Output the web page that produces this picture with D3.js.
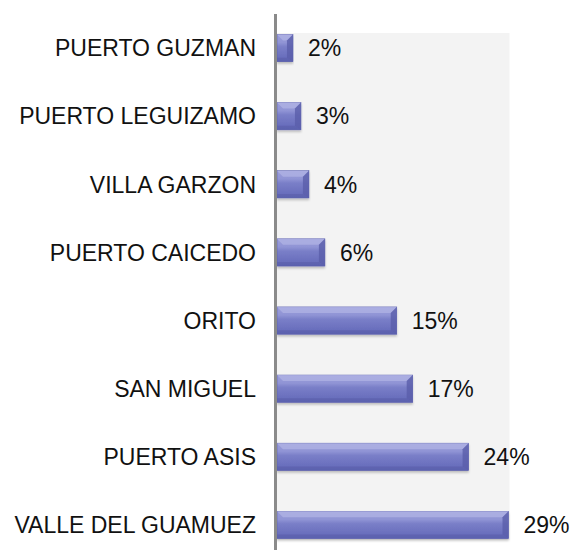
<!DOCTYPE html>
<html>
<head>
<meta charset="utf-8">
<script src="https://cdn.jsdelivr.net/npm/d3@7"></script>
<style>
  html, body { margin: 0; padding: 0; background: #ffffff; }
  svg { display: block; }
  text { font-family: "Liberation Sans", Arial, sans-serif; fill: #111; }
</style>
</head>
<body>
<div id="chart"></div>
<script>
// Municipalities and their share (%)
const categories = [
  "PUERTO GUZMAN",
  "PUERTO LEGUIZAMO",
  "VILLA GARZON",
  "PUERTO CAICEDO",
  "ORITO",
  "SAN MIGUEL",
  "PUERTO ASIS",
  "VALLE DEL GUAMUEZ"
];
const values = [2, 3, 4, 6, 15, 17, 24, 29];
const valueLabels = ["2%", "3%", "4%", "6%", "15%", "17%", "24%", "29%"];

const W = 571, H = 550;
const svg = d3.select("#chart").append("svg")
  .attr("width", W).attr("height", H);

const x = d3.scaleLinear().domain([0, 29]).range([277, 508.5]);
const y = d3.scaleBand().domain(categories).range([14, 559])
  .paddingInner(0.6).paddingOuter(0.3);

const defs = svg.append("defs");
const grad = defs.append("linearGradient")
  .attr("id", "barGrad").attr("x1", 0).attr("y1", 0).attr("x2", 0).attr("y2", 1);
grad.append("stop").attr("offset", "0%").attr("stop-color", "#9a9dd9");
grad.append("stop").attr("offset", "30%").attr("stop-color", "#9094d5");
grad.append("stop").attr("offset", "45%").attr("stop-color", "#7a7fc8");
grad.append("stop").attr("offset", "100%").attr("stop-color", "#6267b8");

const shadow = defs.append("filter").attr("id", "barShadow")
  .attr("x", "-5%").attr("y", "-20%").attr("width", "110%").attr("height", "160%");
shadow.append("feDropShadow").attr("dx", 0).attr("dy", 2)
  .attr("stdDeviation", 1).attr("flood-color", "#000").attr("flood-opacity", 0.22);

// Plot-area background
svg.append("rect")
  .attr("x", x(0)).attr("y", 33)
  .attr("width", x(29) + 1 - x(0)).attr("height", 540 - 33)
  .attr("fill", "#f3f3f3");

// Bars with bevelled look
const bars = svg.append("g").selectAll("g.bar")
  .data(categories.map((c, i) => ({ c, v: values[i], l: valueLabels[i] })))
  .join("g").attr("class", "bar");

bars.append("rect")
  .attr("x", x(0))
  .attr("y", d => y(d.c))
  .attr("width", d => x(d.v) - x(0))
  .attr("height", y.bandwidth())
  .attr("fill", "url(#barGrad)")
  .attr("stroke", "#5a5fae")
  .attr("stroke-width", 0.6)
  .attr("filter", "url(#barShadow)");

const bev = 6;
// top highlight strip with left/right bevel corners
bars.append("path")
  .attr("d", d => {
    const x0 = x(0), x1 = x(d.v), y0 = y(d.c);
    const b = Math.min(bev, (x1 - x0) / 2);
    return `M${x0},${y0}L${x1},${y0}L${x1 - b},${y0 + bev}L${x0 + b},${y0 + bev}Z`;
  })
  .attr("fill", "#b2b5e6").attr("opacity", 0.7);
// right end bevel
bars.append("path")
  .attr("d", d => {
    const x1 = x(d.v), y0 = y(d.c), y1 = y0 + y.bandwidth();
    const b = Math.min(bev, (x(d.v) - x(0)) / 2);
    return `M${x1},${y0}L${x1},${y1}L${x1 - b},${y1 - 4}L${x1 - b},${y0 + bev}Z`;
  })
  .attr("fill", "#5a5eaa").attr("opacity", 0.8);
// bottom darker strip
bars.append("path")
  .attr("d", d => {
    const x0 = x(0), x1 = x(d.v), y1 = y(d.c) + y.bandwidth();
    const b = Math.min(bev, (x1 - x0) / 2);
    return `M${x0},${y1}L${x1},${y1}L${x1 - b},${y1 - 4}L${x0},${y1 - 4}Z`;
  })
  .attr("fill", "#575ca8").attr("opacity", 0.55);

// Value labels
bars.append("text")
  .attr("x", d => x(d.v) + 15)
  .attr("y", d => y(d.c) + y.bandwidth() / 2)
  .attr("dy", "0.36em")
  .attr("font-size", "23px")
  .text(d => d.l);

// Category axis
const yAxis = svg.append("g");
yAxis.selectAll("text")
  .data(categories)
  .join("text")
  .attr("x", x(0) - 21)
  .attr("y", d => y(d) + y.bandwidth() / 2)
  .attr("dy", "0.36em")
  .attr("text-anchor", "end")
  .attr("font-size", "23px")
  .text(d => d);

yAxis.append("line")
  .attr("x1", x(0) - 1.5).attr("x2", x(0) - 1.5)
  .attr("y1", 14).attr("y2", H)
  .attr("stroke", "#8a8a8a").attr("stroke-width", 3);
</script>
</body>
</html>
